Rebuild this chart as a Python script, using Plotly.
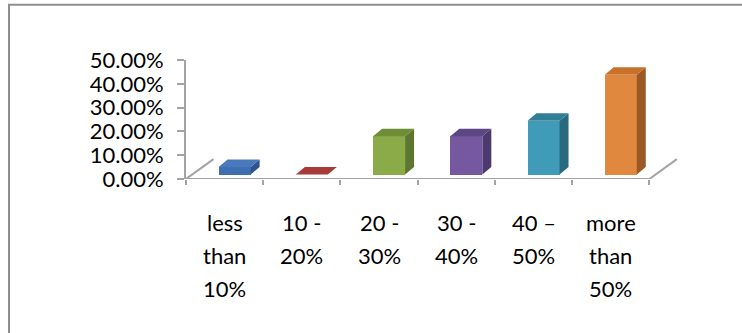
import plotly.graph_objects as go

# ---- data ----
categories = ["less than 10%", "10 - 20%", "20 - 30%", "30 - 40%", "40 – 50%", "more than 50%"]
label_lines = [["less", "than", "10%"], ["10 -", "20%"], ["20 -", "30%"],
               ["30 -", "40%"], ["40 –", "50%"], ["more", "than", "50%"]]
values = [0.032, 0.0, 0.161, 0.161, 0.226, 0.419]
y_ticks = [0.0, 0.1, 0.2, 0.3, 0.4, 0.5]

front_colors = ["#3f6fb1", "#b3433f", "#8aab47", "#7558a0", "#3f9bb7", "#e0883d"]
top_colors = ["#4a79bb", "#a63b37", "#6f8c37", "#5d4684", "#2f7e95", "#c8712b"]
side_colors = ["#2d548c", "#8a302d", "#5d7630", "#4c396d", "#2a6a7e", "#9b5a25"]

# ---- geometry (pixels -> axis units) ----
W, H = 742, 333
L = 186
R = 54
T = 60
B = 153.5
x_range = [-0.5, 6.0]
y_range = [0.0, 0.5]
pw = W - L - R
ph = H - T - B
ux = pw / (x_range[1] - x_range[0])        # px per category
uy = ph / (y_range[1] - y_range[0])        # px per unit value

off = 10 / ux          # bar shift to the right
bw = 32 / ux           # bar front width
base = 4.5 / uy        # bar base lift (depth placement)
dx = 9 / ux            # bar depth, horizontal
dy = 7.5 / uy          # bar depth, vertical
Fx = 27.5 / ux         # floor depth
Fy = 20 / uy

axis_grey = "#a3a3a3"
font = dict(family="Lato, Carlito, Calibri, sans-serif", size=22, color="#000000")

fig = go.Figure()

# front faces
fig.add_trace(go.Bar(
    x=[i + off for i in range(len(values))], y=values, base=[base] * len(values),
    width=bw, marker=dict(color=front_colors, line=dict(width=0)),
    showlegend=False, hoverinfo="skip"))

# top and side faces
for i, v in enumerate(values):
    x0 = i + off - bw / 2
    x1 = x0 + bw
    y0 = base
    y1 = base + v
    if v > 0:
        fig.add_trace(go.Scatter(
            x=[x1, x1 + dx, x1 + dx, x1, x1], y=[y0, y0 + dy, y1 + dy, y1, y0],
            fill="toself", fillcolor=side_colors[i], mode="lines",
            line=dict(width=0, color=side_colors[i]), showlegend=False, hoverinfo="skip"))
    fig.add_trace(go.Scatter(
        x=[x0, x1, x1 + dx, x0 + dx, x0], y=[y1, y1, y1 + dy, y1 + dy, y1],
        fill="toself", fillcolor=top_colors[i], mode="lines",
        line=dict(width=0, color=top_colors[i]), showlegend=False, hoverinfo="skip"))

# floor lines
n = len(values)
fig.add_trace(go.Scatter(x=[-0.5, n - 0.5], y=[0, 0], mode="lines",
                         line=dict(color=axis_grey, width=2), showlegend=False, hoverinfo="skip"))
fig.add_trace(go.Scatter(x=[-0.5, -0.5 + Fx], y=[0, Fy], mode="lines",
                         line=dict(color=axis_grey, width=2), showlegend=False, hoverinfo="skip"))
fig.add_trace(go.Scatter(x=[n - 0.5, n - 0.5 + Fx], y=[0, Fy], mode="lines",
                         line=dict(color=axis_grey, width=2), showlegend=False, hoverinfo="skip"))

# category labels (one annotation per line for Excel-like line spacing)
line_centers_px = [223, 256, 289]
for i, lines in enumerate(label_lines):
    for j, txt in enumerate(lines):
        fig.add_annotation(x=i, xref="x", y=0, yref="paper", text=txt, showarrow=False,
                           xanchor="center", yanchor="middle",
                           yshift=-(line_centers_px[j] - (H - B)), font=font)

# outer border
px2x = lambda p: (p - L) / pw
px2y = lambda p: (H - B - p) / ph
fig.add_shape(type="rect", xref="paper", yref="paper",
              x0=px2x(9), x1=px2x(W + 10), y0=px2y(H + 10), y1=px2y(4.5),
              line=dict(color="#8e8e8e", width=2), fillcolor="rgba(0,0,0,0)", layer="below")

fig.update_layout(
    width=W, height=H,
    margin=dict(l=L, r=R, t=T, b=B, pad=0),
    paper_bgcolor="white", plot_bgcolor="white",
    barmode="overlay", bargap=0,
    xaxis=dict(range=x_range, showgrid=False, zeroline=False, showline=False,
               tickmode="array", tickvals=[k - 0.5 for k in range(n + 1)],
               ticks="outside", ticklen=5, tickwidth=2, tickcolor=axis_grey,
               showticklabels=False, fixedrange=True),
    yaxis=dict(range=y_range, showgrid=False, zeroline=False, showline=True,
               linecolor=axis_grey, linewidth=2,
               tickmode="array", tickvals=y_ticks, tickformat=".2%",
               ticks="outside", ticklen=7, tickwidth=2, tickcolor=axis_grey,
               ticklabelstandoff=9, tickfont=font, fixedrange=True),
    font=font,
)

fig.write_html("out.html")
